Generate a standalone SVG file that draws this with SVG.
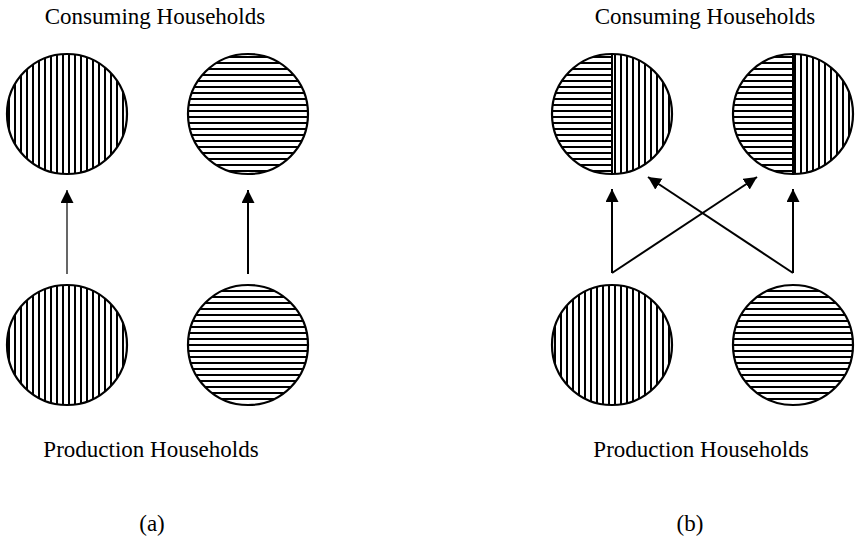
<svg xmlns="http://www.w3.org/2000/svg" width="856" height="549" viewBox="0 0 856 549">
<style>
text{font-family:"Liberation Serif","Times New Roman",serif;font-size:23px;fill:#000;text-anchor:middle}
.ring{fill:none;stroke:#000;stroke-width:2.2}
.conn{fill:none;stroke:#000;stroke-width:2}
</style>
<defs>
<pattern id="vh" patternUnits="userSpaceOnUse" width="6" height="6"><line x1="3" y1="-1" x2="3" y2="7" stroke="#000" stroke-width="2"/></pattern>
<pattern id="hh" patternUnits="userSpaceOnUse" width="6" height="6"><line x1="-1" y1="3" x2="7" y2="3" stroke="#000" stroke-width="2"/></pattern>
<marker id="ah" markerUnits="userSpaceOnUse" markerWidth="14" markerHeight="14" refX="13" refY="6.5" orient="auto"><path d="M0,0 L13,6.5 L0,13 z" fill="#000"/></marker>
<clipPath id="lh1"><rect x="540" y="40" width="72" height="150"/></clipPath>
<clipPath id="rh1"><rect x="612" y="40" width="72" height="150"/></clipPath>
<clipPath id="lh2"><rect x="720" y="40" width="73" height="150"/></clipPath>
<clipPath id="rh2"><rect x="793" y="40" width="72" height="150"/></clipPath>
</defs>

<text x="155" y="24">Consuming Households</text>
<text x="705" y="24">Consuming Households</text>
<text x="151" y="457">Production Households</text>
<text x="701" y="457">Production Households</text>
<text x="152" y="531">(a)</text>
<text x="690" y="531">(b)</text>

<g id="a-consume-1"><circle cx="67" cy="114" r="60" fill="url(#vh)"/><circle class="ring" cx="67" cy="114" r="60"/></g>
<g id="a-consume-2"><circle cx="248" cy="114" r="60" fill="url(#hh)"/><circle class="ring" cx="248" cy="114" r="60"/></g>
<g id="a-produce-1"><circle cx="67" cy="345" r="60" fill="url(#vh)"/><circle class="ring" cx="67" cy="345" r="60"/></g>
<g id="a-produce-2"><circle cx="248" cy="345" r="60" fill="url(#hh)"/><circle class="ring" cx="248" cy="345" r="60"/></g>

<g id="b-consume-1"><circle cx="612" cy="114" r="60" fill="url(#hh)" clip-path="url(#lh1)"/><circle cx="612" cy="114" r="60" fill="url(#vh)" clip-path="url(#rh1)"/><line x1="612" y1="54" x2="612" y2="174" stroke="#000" stroke-width="2"/><circle class="ring" cx="612" cy="114" r="60"/></g>
<g id="b-consume-2"><circle cx="793" cy="114" r="60" fill="url(#hh)" clip-path="url(#lh2)"/><circle cx="793" cy="114" r="60" fill="url(#vh)" clip-path="url(#rh2)"/><line x1="793" y1="54" x2="793" y2="174" stroke="#000" stroke-width="2"/><circle class="ring" cx="793" cy="114" r="60"/></g>
<g id="b-produce-1"><circle cx="612" cy="345" r="60" fill="url(#vh)"/><circle class="ring" cx="612" cy="345" r="60"/></g>
<g id="b-produce-2"><circle cx="793" cy="345" r="60" fill="url(#hh)"/><circle class="ring" cx="793" cy="345" r="60"/></g>

<g id="connectors">
<line x1="67" y1="274" x2="67" y2="190" stroke="#000" stroke-width="1.2" marker-end="url(#ah)"/>
<line class="conn" x1="248" y1="274" x2="248" y2="190" marker-end="url(#ah)"/>
<line class="conn" x1="612" y1="273" x2="612" y2="189" marker-end="url(#ah)"/>
<line class="conn" x1="793" y1="273" x2="793" y2="189" marker-end="url(#ah)"/>
<polyline class="conn" points="612,273 757,177" marker-end="url(#ah)"/>
<polyline class="conn" points="793,273 648,177" marker-end="url(#ah)"/>
</g>
</svg>
